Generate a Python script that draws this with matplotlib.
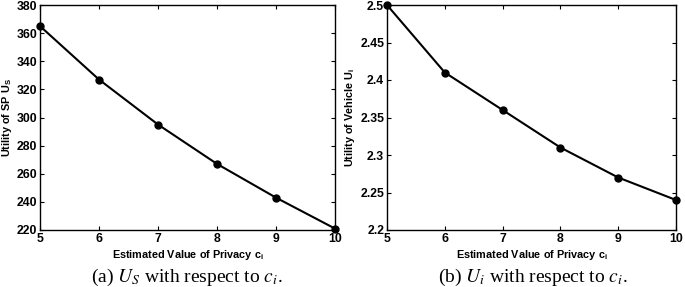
import matplotlib
matplotlib.use("Agg")
import matplotlib.pyplot as plt

privacy = [5, 6, 7, 8, 9, 10]
utility_sp = [365, 327, 295, 267, 243, 221]
utility_vehicle = [2.50, 2.41, 2.36, 2.31, 2.27, 2.24]

sp_ticks = [220, 240, 260, 280, 300, 320, 340, 360, 380]
veh_ticks = [2.2, 2.25, 2.3, 2.35, 2.4, 2.45, 2.5]
veh_ticklabels = ["2.2", "2.25", "2.3", "2.35", "2.4", "2.45", "2.5"]

plt.rcParams['font.family'] = ['Liberation Sans', 'DejaVu Sans']
plt.rcParams['mathtext.fontset'] = 'stix'

fig = plt.figure(figsize=(6.85, 2.87), dpi=100)
ax1 = fig.add_axes([40 / 685, 1 - 230 / 287, 295 / 685, 225 / 287])
ax2 = fig.add_axes([387 / 685, 1 - 230 / 287, 289 / 685, 225 / 287])

def style(ax):
    ax.tick_params(direction='in', top=True, right=True, length=3, width=0.8,
                   labelsize=8.8, pad=2)
    for lbl in ax.get_xticklabels() + ax.get_yticklabels():
        lbl.set_fontweight('bold')
    for s in ax.spines.values():
        s.set_linewidth(1.0)

ax1.plot(privacy, utility_sp, color='black', lw=1.5, marker='o', markersize=5, clip_on=False)
ax1.set_xlim(5, 10)
ax1.set_ylim(220, 380)
ax1.set_xticks(privacy)
ax1.set_yticks(sp_ticks)
ax1.set_xlabel(r'Estimated Value of Privacy c$_\mathregular{i}$', fontsize=7.8, fontweight='bold', labelpad=2)
ax1.set_ylabel(r'Utility of SP U$_\mathregular{S}$', fontsize=7.8, fontweight='bold', labelpad=2)
style(ax1)

ax2.plot(privacy, utility_vehicle, color='black', lw=1.5, marker='o', markersize=5, clip_on=False)
ax2.set_xlim(5, 10)
ax2.set_ylim(2.2, 2.5)
ax2.set_xticks(privacy)
ax2.set_yticks(veh_ticks)
ax2.set_yticklabels(veh_ticklabels)
ax2.set_xlabel(r'Estimated Value of Privacy c$_\mathregular{i}$', fontsize=7.8, fontweight='bold', labelpad=2)
ax2.set_ylabel(r'Utility of Vehicle U$_\mathregular{i}$', fontsize=7.8, fontweight='bold', labelpad=2)
style(ax2)

fig.text(187 / 685, 1 - 277 / 287, r'(a) $U_S$ with respect to $c_i$.', ha='center', va='center',
         fontsize=14, family='Liberation Serif')
fig.text(533 / 685, 1 - 277 / 287, r'(b) $U_i$ with respect to $c_i$.', ha='center', va='center',
         fontsize=14, family='Liberation Serif')

fig.savefig('out.png', dpi=100)
